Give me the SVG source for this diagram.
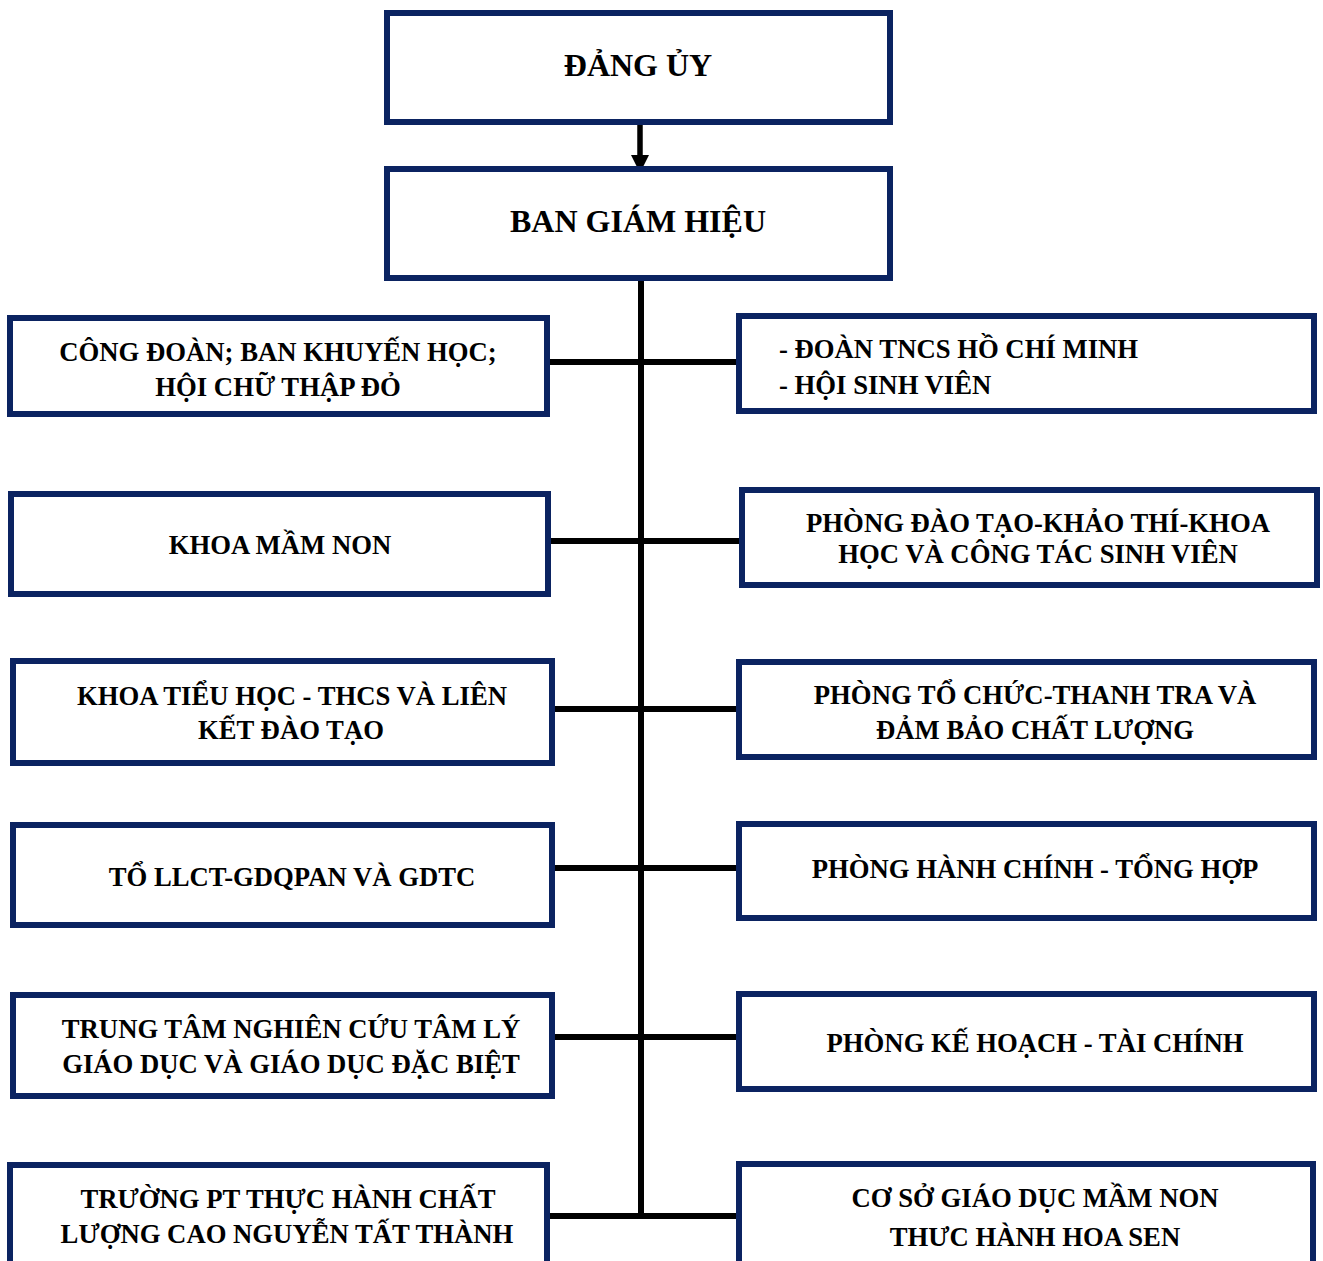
<svg xmlns="http://www.w3.org/2000/svg" width="1323" height="1261" viewBox="0 0 1323 1261">
<defs>
<style>
.box{fill:#ffffff;stroke:#0b2361;stroke-width:6}
.t{font-family:"Liberation Serif","Times New Roman",serif;font-weight:bold;font-size:26.7px;fill:#000;text-anchor:middle}
.tl{text-anchor:start}
.big{font-size:32px}
.ln{stroke:#000;stroke-width:6;fill:none}
</style>
</defs>
<rect width="1323" height="1261" fill="#fff"/>
<g id="connectors">
<line class="ln" x1="641" y1="281" x2="641" y2="1219"/>
<line class="ln" x1="550" y1="362" x2="736" y2="362"/>
<line class="ln" x1="551" y1="541" x2="739" y2="541"/>
<line class="ln" x1="555" y1="709" x2="736" y2="709"/>
<line class="ln" x1="555" y1="868" x2="736" y2="868"/>
<line class="ln" x1="555" y1="1037" x2="736" y2="1037"/>
<line class="ln" x1="550" y1="1216" x2="736" y2="1216"/>
<line stroke="#000" stroke-width="5.5" x1="640" y1="124" x2="640" y2="156"/>
<path d="M631,155 L649,155 L640,173 Z" fill="#000"/>
</g>
<g id="dang-uy">
<rect class="box" x="387" y="13" width="503" height="109"/>
<text class="t big" x="638" y="76">ĐẢNG ỦY</text>
</g>
<g id="ban-giam-hieu">
<rect class="box" x="387" y="169" width="503" height="109"/>
<text class="t big" x="638" y="232">BAN GIÁM HIỆU</text>
</g>
<g id="cong-doan">
<rect class="box" x="10" y="318" width="537" height="96"/>
<text class="t" x="278" y="361">CÔNG ĐOÀN; BAN KHUYẾN HỌC;</text>
<text class="t" x="278" y="396">HỘI CHỮ THẬP ĐỎ</text>
</g>
<g id="khoa-mam-non">
<rect class="box" x="11" y="494" width="537" height="100"/>
<text class="t" x="280" y="554">KHOA MẦM NON</text>
</g>
<g id="khoa-tieu-hoc">
<rect class="box" x="13" y="661" width="539" height="102"/>
<text class="t" x="292" y="705">KHOA TIỂU HỌC - THCS VÀ LIÊN</text>
<text class="t" x="291" y="739">KẾT ĐÀO TẠO</text>
</g>
<g id="to-llct">
<rect class="box" x="13" y="825" width="539" height="100"/>
<text class="t" x="292" y="886">TỔ LLCT-GDQPAN VÀ GDTC</text>
</g>
<g id="trung-tam">
<rect class="box" x="13" y="995" width="539" height="101"/>
<text class="t" x="291" y="1038">TRUNG TÂM NGHIÊN CỨU TÂM LÝ</text>
<text class="t" x="291" y="1073">GIÁO DỤC VÀ GIÁO DỤC ĐẶC BIỆT</text>
</g>
<g id="truong-pt">
<rect class="box" x="10" y="1165" width="537" height="110"/>
<text class="t" x="288" y="1208">TRƯỜNG PT THỰC HÀNH CHẤT</text>
<text class="t" x="287" y="1243">LƯỢNG CAO NGUYỄN TẤT THÀNH</text>
</g>
<g id="doan-tncs">
<rect class="box" x="739" y="316" width="575" height="95"/>
<text class="t tl" x="779" y="358">- ĐOÀN TNCS HỒ CHÍ MINH</text>
<text class="t tl" x="779" y="394">- HỘI SINH VIÊN</text>
</g>
<g id="phong-dao-tao">
<rect class="box" x="742" y="490" width="575" height="95"/>
<text class="t" x="1038" y="532">PHÒNG ĐÀO TẠO-KHẢO THÍ-KHOA</text>
<text class="t" x="1038" y="563">HỌC VÀ CÔNG TÁC SINH VIÊN</text>
</g>
<g id="phong-to-chuc">
<rect class="box" x="739" y="662" width="575" height="95"/>
<text class="t" x="1035" y="704">PHÒNG TỔ CHỨC-THANH TRA VÀ</text>
<text class="t" x="1035" y="739">ĐẢM BẢO CHẤT LƯỢNG</text>
</g>
<g id="phong-hanh-chinh">
<rect class="box" x="739" y="824" width="575" height="94"/>
<text class="t" x="1035" y="878">PHÒNG HÀNH CHÍNH - TỔNG HỢP</text>
</g>
<g id="phong-ke-hoach">
<rect class="box" x="739" y="994" width="575" height="95"/>
<text class="t" x="1035" y="1052">PHÒNG KẾ HOẠCH - TÀI CHÍNH</text>
</g>
<g id="co-so-mam-non">
<rect class="box" x="739" y="1164" width="574" height="110"/>
<text class="t" x="1035" y="1207">CƠ SỞ GIÁO DỤC MẦM NON</text>
<text class="t" x="1035" y="1246">THƯC HÀNH HOA SEN</text>
</g>
</svg>
